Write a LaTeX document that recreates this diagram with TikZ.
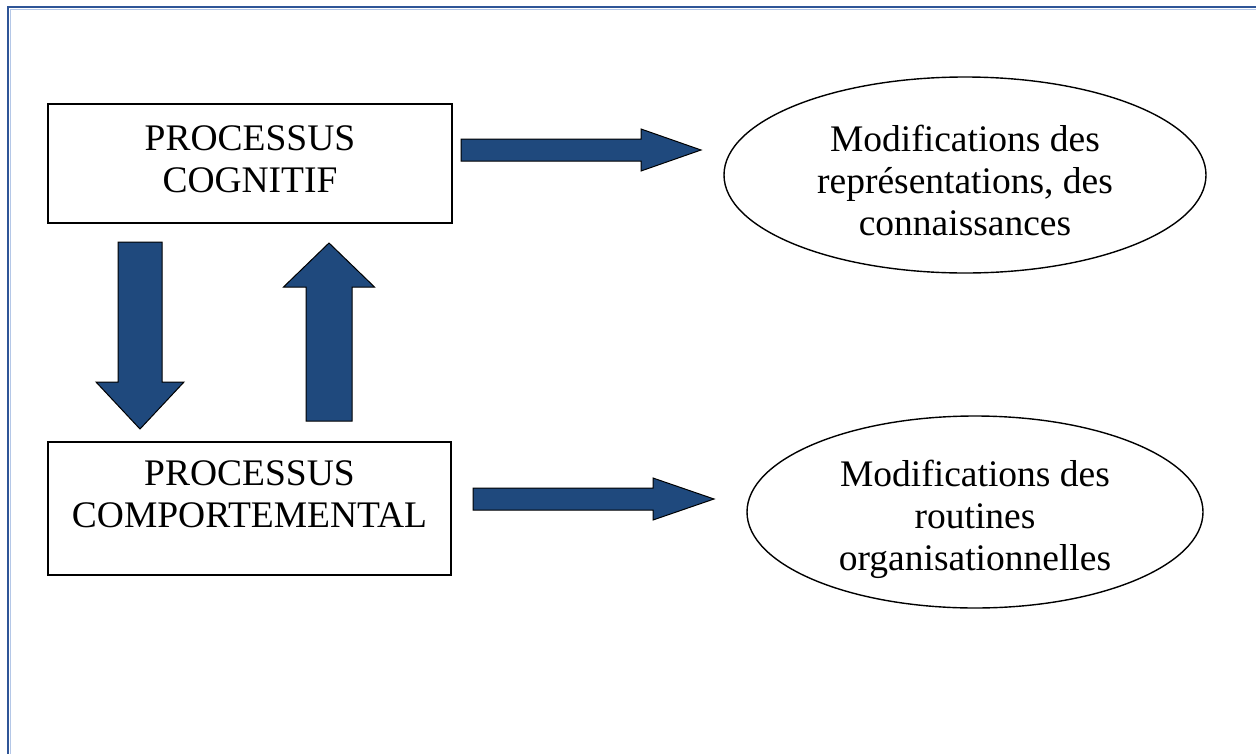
\documentclass[tikz,border=0pt]{standalone}
\usepackage{fontspec}
\setmainfont{Liberation Serif}
\usetikzlibrary{shapes.geometric,calc}
\definecolor{arrowblue}{RGB}{31,73,125}
\definecolor{frameblue}{RGB}{47,85,151}
\definecolor{framelight}{RGB}{180,199,231}
% block arrow: #1 start, #2 tip, #3 shaft half-width, #4 head half-width, #5 head length
\newcommand\blockarrow[5]{%
  \coordinate (hb) at ($(#2)!#5!(#1)$);
  \filldraw[blockarrowstyle]
    ($(#1)!#3!90:(#2)$) -- ($(hb)!#3!90:(#2)$) -- ($(hb)!#4!90:(#2)$) -- (#2)
    -- ($(hb)!#4!-90:(#2)$) -- ($(hb)!#3!-90:(#2)$) -- ($(#1)!#3!-90:(#2)$) -- cycle;}
\tikzset{
  procbox/.style={draw=black, line width=1.5pt, rectangle, inner sep=0pt},
  oval/.style={draw=black, line width=1.4pt, ellipse, inner sep=0pt},
  txt/.style={anchor=base, inner sep=0pt, font=\fontsize{37.5}{42}\selectfont},
  blockarrowstyle/.style={fill=arrowblue, draw=black, line width=1pt, line join=miter},
}
\begin{document}
\begin{tikzpicture}[x=1pt,y=-1pt]
\useasboundingbox (0,0) rectangle (1256,753);
\fill[white] (0,0) rectangle (1256,753);
\clip (0,0) rectangle (1256,753);
% frame
\draw[frameblue, line width=2pt] (8,770) -- (8,7) -- (1270,7);
\draw[framelight, line width=1pt] (10,770) -- (10,9) -- (1270,9);
% boxes
\node[procbox, minimum width=404pt, minimum height=119pt] (cog) at (250,163.5) {};
\node[procbox, minimum width=403pt, minimum height=133pt] (comp) at (249.5,508.5) {};
\node[txt] (cogtxt) at (250,150) {\begin{tabular}[t]{@{}c@{}}PROCESSUS\\COGNITIF\end{tabular}};
\node[txt] (comptxt) at (249.5,485) {\begin{tabular}[t]{@{}c@{}}PROCESSUS\\COMPORTEMENTAL\end{tabular}};
% ellipses
\node[oval, minimum width=482pt, minimum height=196pt] (rep) at (965,175) {};
\node[oval, minimum width=456pt, minimum height=192pt] (rout) at (975,512) {};
\node[txt] (reptxt) at (965,151) {\begin{tabular}[t]{@{}c@{}}Modifications des\\représentations, des\\connaissances\end{tabular}};
\node[txt] (routtxt) at (975,486) {\begin{tabular}[t]{@{}c@{}}Modifications des\\routines\\organisationnelles\end{tabular}};
% arrows
\coordinate (a1s) at (461,150);
\coordinate (a1e) at (701,150);
\coordinate (a2s) at (473,499);
\coordinate (a2e) at (714,499);
\coordinate (dns) at (140,242);
\coordinate (dne) at (140,429);
\coordinate (ups) at (329,421);
\coordinate (upe) at (329,243);
\blockarrow{a1s}{a1e}{11pt}{21pt}{60pt}
\blockarrow{a2s}{a2e}{11pt}{21pt}{61pt}
\blockarrow{dns}{dne}{22pt}{44pt}{47pt}
\blockarrow{ups}{upe}{23pt}{45.5pt}{44pt}
\end{tikzpicture}
\end{document}
